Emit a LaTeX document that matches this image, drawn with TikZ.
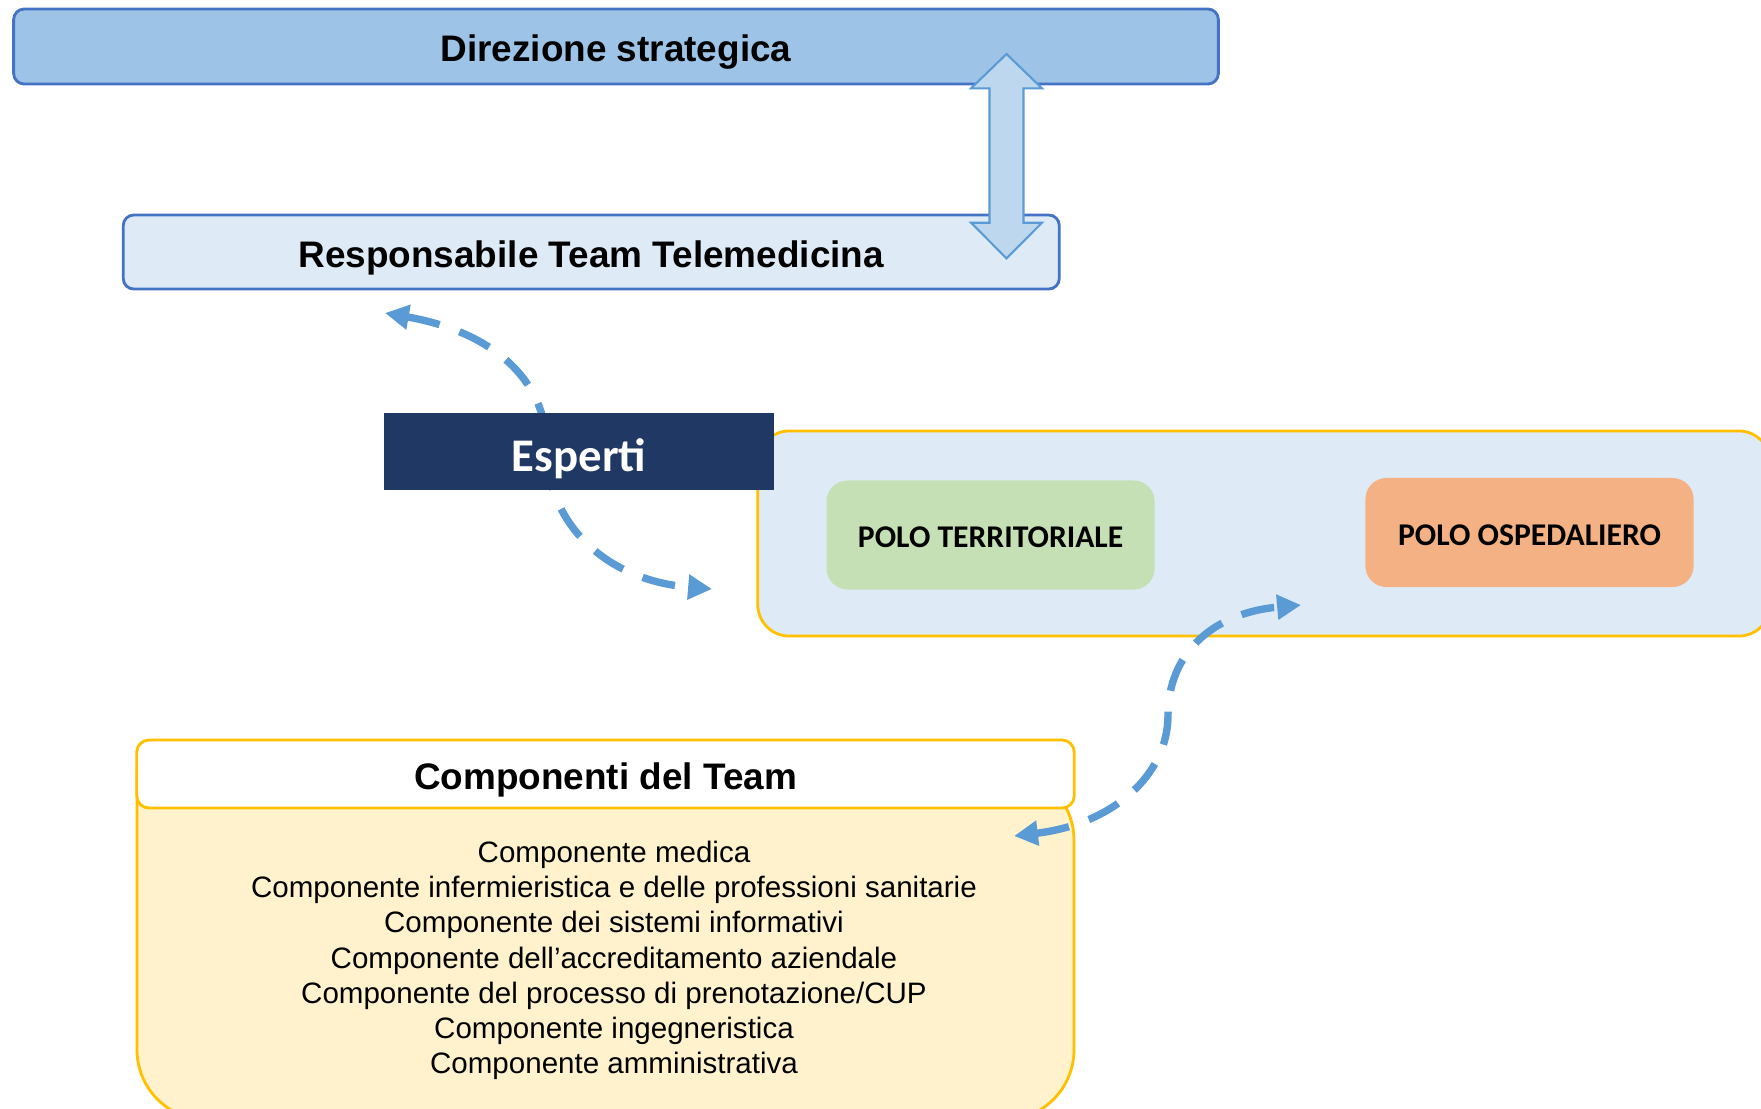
\documentclass[tikz,border=0pt]{standalone}
\usepackage{fontspec}
\setmainfont{Liberation Sans}
\newfontfamily\calibri{Carlito}
\usetikzlibrary{arrows.meta}

\definecolor{dirblue}{HTML}{9DC3E6}
\definecolor{boxline}{HTML}{4472C4}
\definecolor{paleblue}{HTML}{DEEBF7}
\definecolor{navy}{HTML}{203864}
\definecolor{gold}{HTML}{FFC000}
\definecolor{terrgreen}{HTML}{C5E0B4}
\definecolor{ospedorange}{HTML}{F4B183}
\definecolor{teamfill}{HTML}{FFF2CC}
\definecolor{linkblue}{HTML}{5B9BD5}
\definecolor{blockfill}{HTML}{BDD7EE}

\begin{document}
\begin{tikzpicture}[x=0.01cm, y=-0.01cm,
  headtxt/.style={font=\bfseries\fontsize{10.5}{12}\selectfont,
    text height=8.8pt, text depth=0pt},
  lvl/.style={headtxt, draw=boxline, line width=0.8pt, rounded corners=3pt, inner sep=0pt},
  polo/.style={rounded corners=6pt, minimum width=3.28cm, minimum height=1.09cm,
    font=\calibri\bfseries\fontsize{9}{11}\selectfont, text height=7.2pt, text depth=0pt},
  goldbox/.style={draw=gold, line width=0.8pt},
  link/.style={linkblue, line width=2.1pt, dash pattern=on 9.5pt off 6pt,
    {Triangle[length=6.8pt,width=6.8pt]}-{Triangle[length=6.8pt,width=6.8pt]}},
]
  \clip (0,0) rectangle (1761,1108);
  %
  \node [lvl, fill=dirblue, minimum width=12.04cm, minimum height=0.75cm]
    (dir) at (616,46.5) {Direzione strategica};
  \node [lvl, fill=paleblue, minimum width=9.355cm, minimum height=0.74cm]
    (resp) at (591.25,252) {Responsabile Team Telemedicina};
  % block arrow between the two levels
  \draw [linkblue, fill=blockfill, line width=0.6pt]
    (1006.5,54) -- (1042,88.3) -- (1023.5,88.3) -- (1023.5,222.7)
    -- (1042,222.7) -- (1006.5,258.3) -- (971,222.7) -- (989.5,222.7)
    -- (989.5,88.3) -- (971,88.3) -- cycle;
  %
  \node [goldbox, fill=paleblue, rounded corners=9pt, minimum width=10.12cm,
    minimum height=2.05cm] (poli) at (1264,533.5) {};
  \node [polo, fill=terrgreen] (terr) at (990.6,535) {POLO TERRITORIALE};
  \node [polo, fill=ospedorange] (osped) at (1529.5,532.5) {POLO OSPEDALIERO};
  %
  \coordinate (e1) at (385,313);
  \coordinate (m1) at (547,450);
  \coordinate (e2) at (712,589);
  \draw [link] (e1) .. controls +(108,19) and +(0,-70) .. (m1)
    .. controls +(0,70) and +(-110,-9) .. (e2);
  \node [fill=navy, text=white, minimum width=3.90cm, minimum height=0.77cm,
    font=\calibri\bfseries\fontsize{13.3}{16}\selectfont, text height=11.2pt,
    text depth=0pt] (esperti) at (579,451.5) {Esperti};
  %
  \draw [goldbox, fill=teamfill, rounded corners=20pt] (137,770) -- (137,1120)
    -- (1074,1120) -- (1074,770) [sharp corners] -- cycle;
  \node [headtxt, goldbox, fill=white, rounded corners=3.5pt, minimum width=9.37cm,
    minimum height=0.68cm] (team) at (605.5,774) {Componenti del Team};
  \foreach \t [count=\i] in {Componente medica,
      Componente infermieristica e delle professioni sanitarie,
      Componente dei sistemi informativi,
      Componente dell’accreditamento aziendale,
      Componente del processo di prenotazione/CUP,
      Componente ingegneristica,
      Componente amministrativa} {
    \node [anchor=base, inner sep=0pt, font=\fontsize{8.4}{10}\selectfont]
      (comp\i) at (614,827.3+35.2*\i) {\t};
  }
  %
  \coordinate (f1) at (1014,836);
  \coordinate (m2) at (1168,715);
  \coordinate (f2) at (1301,605);
  \draw [link] (f1) .. controls +(99,-12) and +(0,60) .. (m2)
    .. controls +(0,-60) and +(-90,8) .. (f2);
\end{tikzpicture}
\end{document}
